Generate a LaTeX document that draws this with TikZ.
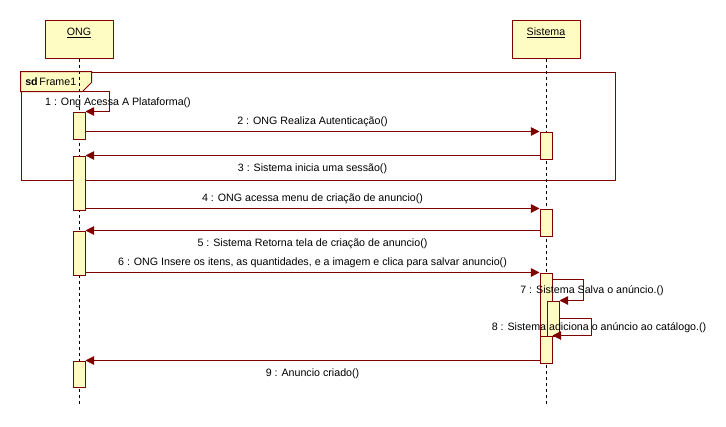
\documentclass[tikz,border=0pt]{standalone}
\usepackage{fontspec}
\setmainfont{Liberation Sans}
\usetikzlibrary{arrows.meta,positioning}
\definecolor{umlred}{RGB}{128,0,0}
\definecolor{umlfill}{RGB}{255,252,195}
\tikzset{
    head/.style={rectangle, draw=umlred, fill=umlfill, line width=0.75pt, minimum width=51pt, minimum height=28.5pt, inner sep=0pt, text height=11.25pt, text depth=17.25pt},
    act/.style={rectangle, draw=umlred, fill=umlfill, line width=0.75pt, minimum width=9pt, inner sep=0pt},
    life/.style={draw=black, line width=0.6pt, dash pattern=on 2.25pt off 2.25pt},
    msg/.style={draw=umlred, line width=0.75pt, -{Triangle[length=6.5pt,width=6.5pt]}},
    lbl/.style={font=\fontsize{8pt}{9.6pt}\selectfont, text=black},
    sdframe/.style={rectangle, draw=umlred, line width=0.75pt, minimum width=445.5pt, minimum height=81pt, inner sep=0pt}
}

\begin{document}
\begin{tikzpicture}[x=0.75pt, y=-0.75pt, every node/.append style={lbl}]
    \useasboundingbox (0,0) rectangle (726,426);

    % Frame
    \node [sdframe] (frame1) at (318,126) {};
    \draw [draw=umlred, fill=umlfill, line width=0.75pt] (frame1.north west) -- ++(71,0) -- ++(0,11) -- ++(-9,9) -- ++(-62,0) -- cycle;
    \node [anchor=west, inner sep=0pt] (frame1lbl) at (25,82) {\textbf{sd}\,Frame1};

    % Lifelines
    \node [head] (ong) at (79,39) {\underline{ONG}};
    \node [head] (sis) at (546,39) {\underline{Sistema}};
    \coordinate (ongend) at (79,405);
    \coordinate (sisend) at (546,405);
    \draw [life] (ong.south) -- (ongend);
    \draw [life] (sis.south) -- (sisend);

    % Activations of ONG
    \node [act, minimum height=20.25pt] (o1) at (79,125.5) {};
    \node [act, minimum height=40.5pt] (o2) at (79,183) {};
    \node [act, minimum height=33pt] (o3) at (79,253) {};
    \node [act, minimum height=19.5pt] (o4) at (79,374) {};

    % Activations of Sistema
    \node [act, minimum height=20.25pt] (s1) at (546,145.5) {};
    \node [act, minimum height=20.25pt] (s2) at (546,222.5) {};
    \node [act, minimum height=67.5pt] (s3) at (546,318) {};
    \node [act, minimum height=26.25pt] (s3b) at (553,318.5) {};
    \node [act, minimum height=20.25pt] (s3c) at (546,349.5) {};

    % Messages
    \draw [msg] ([yshift=15pt]o1.north) -- ++(30,0) |- (o1.north east);
    \node (m1) at (118,103) {1 : Ong Acessa A Plataforma()};
    \draw [msg] (o1.east |- s1.north) -- node [above] {2 : ONG Realiza Autenticação()} (s1.north west);
    \draw [msg] (s1.west |- o2.north) -- node [below=2.5pt] {3 : Sistema inicia uma sessão()} (o2.north east);
    \draw [msg] (o2.east |- s2.north) -- node [above] {4 : ONG acessa menu de criação de anuncio()} (s2.north west);
    \draw [msg] (s2.west |- o3.north) -- node [below=2.5pt] {5 : Sistema Retorna tela de criação de anuncio()} (o3.north east);
    \draw [msg] (o3.east |- s3.north) -- node [above] {6 : ONG Insere os itens, as quantidades, e a imagem e clica para salvar anuncio()} (s3.north west);
    \draw [msg] ([yshift=-5.25pt]s3.north east) -- ++(31,0) |- (s3b.north east);
    \node (m7) at (592,291) {7 : Sistema Salva o anúncio.()};
    \draw [msg] (s3b.east) -- ++(32,0) |- (s3c.north east);
    \node (m8) at (599,328) {8 : Sistema adiciona o anúncio ao catálogo.()};
    \draw [msg] (s3c.west |- o4.north) -- node [below=2.5pt] {9 : Anuncio criado()} (o4.north east);
\end{tikzpicture}
\end{document}
